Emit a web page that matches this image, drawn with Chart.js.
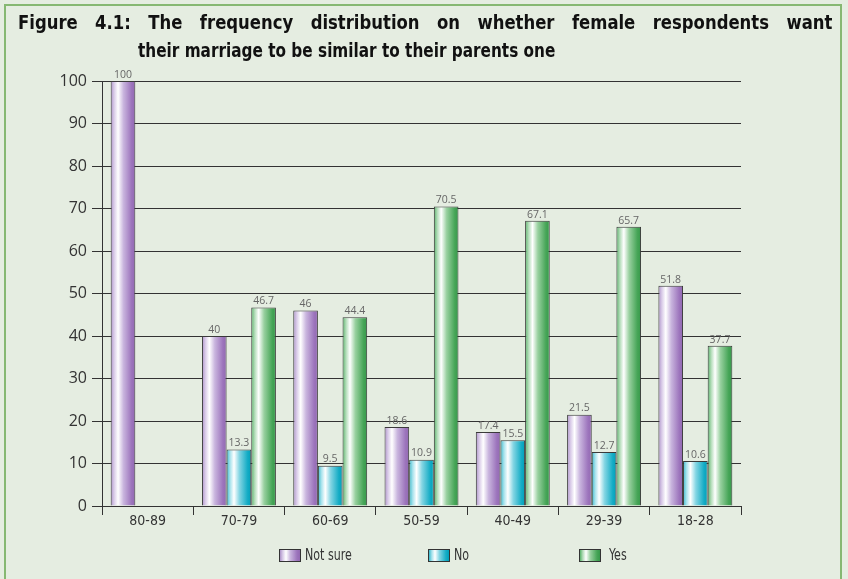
<!DOCTYPE html>
<html>
<head>
<meta charset="utf-8">
<script src="https://cdn.jsdelivr.net/npm/chart.js@4.4.1/dist/chart.umd.min.js"></script>
<style>
  html, body { margin: 0; padding: 0; background: #e5ede1; }
  #wrap { position: relative; width: 848px; height: 579px; overflow: hidden; background: #e5ede1; }
  #frame { position: absolute; left: 4px; top: 4px; width: 838px; height: 600px; border: 2px solid #86b872; box-sizing: border-box; }
  #c { position: absolute; left: 0; top: 0; }
  .t { position: absolute; font-family: "DejaVu Sans Condensed", "Liberation Sans Narrow", sans-serif; font-weight: bold; font-size: 20px; color: #111; white-space: nowrap; line-height: 24px; transform-origin: left top; }
  #t1 { left: 18px; top: 10px; width: 890px; text-align: justify; text-align-last: justify; white-space: normal; transform: scaleX(0.915); }
  #t2 { left: 138px; top: 38px; transform: scaleX(0.85); }
  .lg { position: absolute; top: 545px; font-family: "DejaVu Sans Condensed", sans-serif; font-size: 15px; color: #333; line-height: 20px; }
  .sw { position: absolute; width: 20px; height: 11px; border: 1px solid #333; top: 4px; left: 0; }
  .lg span { position: absolute; white-space: nowrap; top: 0; transform: scaleX(0.82); transform-origin: left top; }
</style>
</head>
<body>
<div id="wrap">
  <div id="frame"></div>
  <canvas id="c" width="848" height="579"></canvas>
  <div class="t" id="t1">Figure 4.1: The frequency distribution on whether female respondents want</div>
  <div class="t" id="t2">their marriage to be similar to their parents one</div>
  <div class="lg" style="left:279px"><div class="sw" id="sw0"></div><span style="left:26px">Not sure</span></div>
  <div class="lg" style="left:428px"><div class="sw" id="sw1"></div><span style="left:26px">No</span></div>
  <div class="lg" style="left:579px"><div class="sw" id="sw2"></div><span style="left:30px">Yes</span></div>
</div>
<script>
// ── data ─────────────────────────────────────────────
const ageGroups = ['80-89', '70-79', '60-69', '50-59', '40-49', '29-39', '18-28'];
const notSure   = [100, 40, 46, 18.6, 17.4, 21.5, 51.8];
const no        = [null, 13.3, 9.5, 10.9, 15.5, 12.7, 10.6];
const yes       = [null, 46.7, 44.4, 70.5, 67.1, 65.7, 37.7];
const yTicks    = [0, 10, 20, 30, 40, 50, 60, 70, 80, 90, 100];

// gradient stops per series (left → right across the bar)
const STOPS = [
  [[0, '#ad92c9'], [0.14, '#d9cbe8'], [0.3, '#ffffff'], [0.52, '#c9b5de'], [0.85, '#9c74bc'], [1, '#9269b2']],
  [[0, '#38bacd'], [0.14, '#a6e2ec'], [0.3, '#ffffff'], [0.52, '#84d5e3'], [0.85, '#14acc5'], [1, '#009fba']],
  [[0, '#58b36a'], [0.14, '#b2dcb8'], [0.3, '#ffffff'], [0.52, '#98d09f'], [0.85, '#46a557'], [1, '#36984a']],
];

const CAT_PCT = 0.81;

// legend swatches
STOPS.forEach((s, i) => {
  document.getElementById('sw' + i).style.background =
    'linear-gradient(to right,' + s.map(p => `${p[1]} ${p[0] * 100}%`).join(',') + ')';
});

function barFill(ctx) {
  const chart = ctx.chart;
  const xs = chart.scales.x;
  if (!xs || !chart.chartArea) return STOPS[ctx.datasetIndex][5][1];
  const catW   = xs.width / ageGroups.length;
  const groupW = catW * CAT_PCT;
  const barW   = groupW / 3;
  const left   = xs.getPixelForValue(ctx.dataIndex) - groupW / 2 + ctx.datasetIndex * barW;
  const g = chart.ctx.createLinearGradient(left, 0, left + barW, 0);
  STOPS[ctx.datasetIndex].forEach(p => g.addColorStop(p[0], p[1]));
  return g;
}

// value labels above bars
const valueLabels = {
  id: 'valueLabels',
  afterDatasetsDraw(chart) {
    const c = chart.ctx;
    c.save();
    c.font = '10.5px "Open Sans", sans-serif';
    c.fillStyle = '#666';
    c.textAlign = 'center';
    c.textBaseline = 'bottom';
    chart.data.datasets.forEach((ds, di) => {
      chart.getDatasetMeta(di).data.forEach((el, i) => {
        if (ds.data[i] == null) return;
        c.fillText(String(ds.data[i]), el.x, el.y - 1);
      });
    });
    c.restore();
  }
};

const mk = (label, data) => ({
  label, data,
  backgroundColor: barFill,
  borderColor: '#3a3a3a',
  borderWidth: 1,
  borderSkipped: 'bottom',
  categoryPercentage: CAT_PCT,
  barPercentage: 1,
});

new Chart(document.getElementById('c'), {
  type: 'bar',
  data: {
    labels: ageGroups,
    datasets: [mk('Not sure', notSure), mk('No', no), mk('Yes', yes)],
  },
  options: {
    responsive: false,
    animation: false,
    layout: { padding: { top: 81, right: 107, left: 0, bottom: 0 } },
    plugins: { legend: { display: false }, tooltip: { enabled: false } },
    scales: {
      x: {
        afterFit: s => { s.height = 73; },
        grid: { drawOnChartArea: false, tickLength: 9, color: '#333', offset: true },
        border: { color: '#333', width: 1 },
        ticks: { color: '#333', padding: -2, font: { family: '"DejaVu Sans Condensed", sans-serif', size: 14 } },
      },
      y: {
        min: 0, max: 100,
        afterFit: s => { s.width = 102; },
        afterBuildTicks: s => { s.ticks = yTicks.map(v => ({ value: v })); },
        grid: { color: '#333', tickLength: 10, lineWidth: 1 },
        border: { color: '#333', width: 1 },
        ticks: { color: '#333', padding: 5, font: { family: '"Open Sans", sans-serif', size: 16 } },
      },
    },
  },
  plugins: [valueLabels],
});
</script>
</body>
</html>
